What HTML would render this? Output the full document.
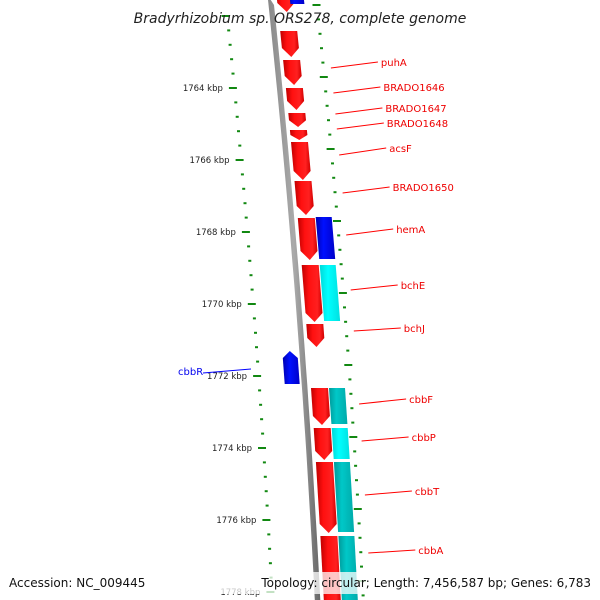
<!DOCTYPE html>
<html><head><meta charset="utf-8"><style>
html,body{margin:0;padding:0;background:#fff;width:600px;height:600px;overflow:hidden}
svg{display:block;font-family:"DejaVu Sans","Liberation Sans",sans-serif;overflow:hidden}
</style></head><body>
<svg id="map" width="600" height="600" viewBox="0 0 600 600" xmlns="http://www.w3.org/2000/svg">
<defs>
<linearGradient id="gRed" x1="0" x2="1" y1="0" y2="0"><stop offset="0" stop-color="#c00000"/><stop offset="0.35" stop-color="#ff1010"/><stop offset="0.75" stop-color="#ff2020"/><stop offset="1" stop-color="#d00000"/></linearGradient>
<linearGradient id="gBlue" x1="0" x2="1"><stop offset="0" stop-color="#0000b0"/><stop offset="0.4" stop-color="#0010ff"/><stop offset="1" stop-color="#0000c8"/></linearGradient>
<linearGradient id="gTeal" x1="0" x2="1"><stop offset="0" stop-color="#009a9a"/><stop offset="0.4" stop-color="#00c8c8"/><stop offset="1" stop-color="#00aaaa"/></linearGradient>
<linearGradient id="gCyan" x1="0" x2="1"><stop offset="0" stop-color="#00d8d8"/><stop offset="0.4" stop-color="#00ffff"/><stop offset="1" stop-color="#00e0e0"/></linearGradient>
<linearGradient id="gGrey" x1="0" x2="1"><stop offset="0" stop-color="#888"/><stop offset="0.5" stop-color="#aaa"/><stop offset="1" stop-color="#666"/></linearGradient>
<clipPath id="frame"><rect x="0" y="0" width="600" height="600"/></clipPath>
</defs>
<g id="strip" clip-path="url(#frame)"></g>
<g id="labels" clip-path="url(#frame)"></g>
<text x="300" y="23" text-anchor="middle" font-size="14" font-style="italic" fill="#222">Bradyrhizobium sp. ORS278, complete genome</text>
<rect x="0" y="572" width="600" height="22" fill="#fff" opacity="0.75"/>
<text x="9" y="587" font-size="12" fill="#111">Accession: NC_009445</text>
<text x="591" y="587" text-anchor="end" font-size="12" fill="#111">Topology: circular; Length: 7,456,587 bp; Genes: 6,783</text>
</svg>
<script>
// ---- data ----
const majorKbp = [1764, 1766, 1768, 1770, 1772, 1774, 1776, 1778];
const fwdStart = [-20, 30, 59, 87, 112, 129, 141, 180, 217, 264, 323, 387, 427, 461, 535];
const fwdEnd   = [12, 57, 85, 110, 127, 140, 180, 215, 260, 322, 347, 425, 460, 533, 620];
const compLaneStart = [216, 264, 387, 427, 461, 535];
const compLaneEnd   = [260, 322, 425, 460, 533, 610];
const compLaneKind  = ["blue", "cyan", "teal", "cyan", "teal", "teal"];
const geneNames = ["puhA","BRADO1646","BRADO1647","BRADO1648","acsF","BRADO1650","hemA","bchE","bchJ","cbbF","cbbP","cbbT","cbbA"];
const geneLabelY = [62, 87, 108, 123, 148, 187, 229, 285, 328, 399, 437, 491, 550];
const geneAnchorY = [68, 93, 114, 129, 155, 193, 235, 290, 331, 404, 441, 495, 553];
// ---- layout ----
const NS = "http://www.w3.org/2000/svg";
const strip = document.getElementById('strip');
const labels = document.getElementById('labels');
const pxPerKbp = 36, y0 = 88, k0 = 1764;
function yOf(kbp){ return y0 + (kbp - k0) * pxPerKbp; }
function off(y){ return 0.105*y - 0.000045*y*y; }
function X(u,y){ return u + off(y); }
function poly(pts, fill, name){
  const p = document.createElementNS(NS,'polygon');
  p.setAttribute('points', pts.map(q=>X(q[0],q[1]).toFixed(1)+','+q[1]).join(' '));
  p.setAttribute('fill', fill);
  
  
  strip.appendChild(p);
  return p;
}
// backbone
const bb=[]; for(let y=-5;y<=600;y+=20) bb.push([268,y]); bb.push([268,600]); bb.push([273.5,600]); for(let y=585;y>=-5;y-=20) bb.push([273.5,y]);
poly(bb,'url(#gGrey)','backbone');
// forward genes (red arrows pointing down)
fwdStart.forEach((s,i)=>{
  const e=fwdEnd[i], L=277, R=294, tip=Math.min(9,(e-s)*0.45);
  poly([[L,s+1],[R,s+1],[R,e-tip],[(L+R)/2,e],[L,e-tip]],'url(#gRed)','forward-gene');
});
// complementary lane
compLaneStart.forEach((s,i)=>{
  const e=compLaneEnd[i], L=295, R=311;
  const f = compLaneKind[i]==='blue'?'url(#gBlue)':compLaneKind[i]==='cyan'?'url(#gCyan)':'url(#gTeal)';
  poly([[L,s+1],[R,s+1],[R,e-1],[L,e-1]],f,'gene-'+compLaneKind[i]);
});
// top blue gene
poly([[290,-20],[304,-20],[304,4],[290,4]],'url(#gBlue)','reverse-gene-top');
// cbbR reverse gene (arrow up)
poly([[251,358],[258.5,351],[266,358],[266,384],[251,384]],'url(#gBlue)','cbbR-gene');
// ticks
for(let k=1762; k<=1778.5; k+=0.4){
  const kk=Math.round(k*10)/10, y=yOf(kk);
  const major = Math.abs(kk-Math.round(kk))<0.01 && Math.round(kk)%2===0;
  const t=document.createElementNS(NS,'rect');
  const w=major?8:3;
  t.setAttribute('x',(X(major?220:224,y)).toFixed(1)); t.setAttribute('y',y-1);
  t.setAttribute('width',w); t.setAttribute('height',2); t.setAttribute('fill','#118811');
  
  
  strip.appendChild(t);
  const y2=y-11;
  const t2=document.createElementNS(NS,'rect');
  t2.setAttribute('x',(X(major?312:315,y2)).toFixed(1)); t2.setAttribute('y',y2-1);
  t2.setAttribute('width',w); t2.setAttribute('height',2); t2.setAttribute('fill','#118811');
  
  
  strip.appendChild(t2);
}
majorKbp.forEach(k=>{
  const y=yOf(k);
  const t=document.createElementNS(NS,'text');
  t.setAttribute('x',(X(214,y)).toFixed(1)); t.setAttribute('y',y+3);
  t.setAttribute('text-anchor','end'); t.setAttribute('font-size','8.5'); t.setAttribute('fill','#222');
  
  
  t.textContent=k+' kbp';
  labels.appendChild(t);
});
// gene labels
geneNames.forEach((n,i)=>{
  const ly=geneLabelY[i], ay=geneAnchorY[i];
  const ax=X(324,ay), lx=ax+47;
  const l=document.createElementNS(NS,'line');
  l.setAttribute('x1',ax.toFixed(1)); l.setAttribute('y1',ay); l.setAttribute('x2',lx.toFixed(1)); l.setAttribute('y2',ly);
  l.setAttribute('stroke','#ff0000'); l.setAttribute('stroke-width','1');
  
  
  labels.appendChild(l);
  const t=document.createElementNS(NS,'text');
  t.setAttribute('x',(lx+3).toFixed(1)); t.setAttribute('y',ly+4);
  t.setAttribute('font-size','10'); t.setAttribute('fill','#ee0000');
  
  
  t.textContent=n;
  labels.appendChild(t);
});
// cbbR label
const cl=document.createElementNS(NS,'line');
cl.setAttribute('x1','203'); cl.setAttribute('y1','373'); cl.setAttribute('x2','251'); cl.setAttribute('y2','369');
cl.setAttribute('stroke','#0000ff');


labels.appendChild(cl);
const ct=document.createElementNS(NS,'text');
ct.setAttribute('x','178'); ct.setAttribute('y','375'); ct.setAttribute('font-size','10'); ct.setAttribute('fill','#0000ee');


ct.textContent='cbbR';
labels.appendChild(ct);
</script>
</body></html>
